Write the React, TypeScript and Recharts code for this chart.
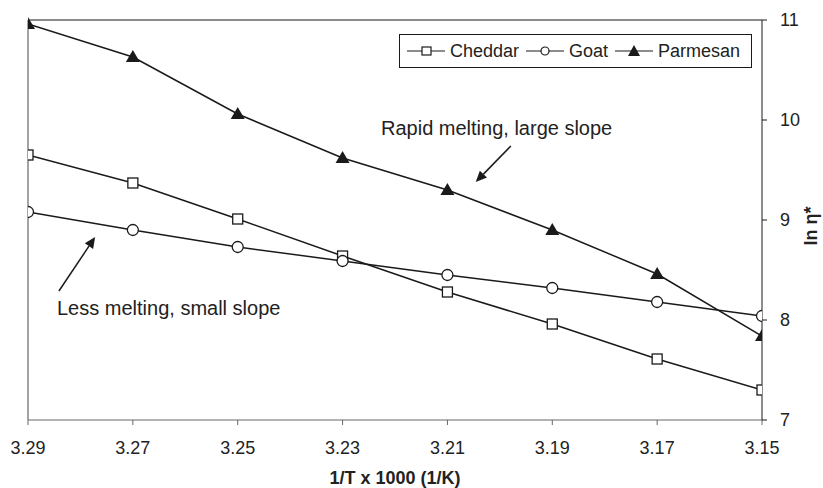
import {
  LineChart,
  Line,
  XAxis,
  YAxis,
  ReferenceLine,
} from "recharts";

const temps = [3.29, 3.27, 3.25, 3.23, 3.21, 3.19, 3.17, 3.15];
const cheddar = [9.65, 9.37, 9.01, 8.64, 8.28, 7.96, 7.61, 7.3];
const goat = [9.08, 8.9, 8.73, 8.59, 8.45, 8.32, 8.18, 8.04];
const parmesan = [10.96, 10.63, 10.06, 9.62, 9.3, 8.9, 8.46, 7.84];
const yTicks = [7, 8, 9, 10, 11];

// arrow annotations in data units: [fromX, fromY, toX, toY]
const rapidArrow = [3.1979, 9.74, 3.2046, 9.38];
const lessArrow = [3.2841, 8.29, 3.2772, 8.83];

const data = temps.map((t, i) => ({
  t,
  cheddar: cheddar[i],
  goat: goat[i],
  parmesan: parmesan[i],
}));

const INK = "#1a1a1a";
const TXT = "#222";
const FONT = "'Liberation Sans', Arial, sans-serif";

const SquareDot = (p: any) => (
  <rect x={p.cx - 5} y={p.cy - 5} width={10} height={10} fill="#fff" stroke={INK} strokeWidth={1.3} />
);
const CircleDot = (p: any) => (
  <circle cx={p.cx} cy={p.cy} r={5.5} fill="#fff" stroke={INK} strokeWidth={1.3} />
);
const TriDot = (p: any) => (
  <polygon points={`${p.cx},${p.cy - 7} ${p.cx - 7},${p.cy + 5} ${p.cx + 7},${p.cy + 5}`} fill={INK} />
);

const YTick = (p: any) => (
  <text x={p.x + 11} y={p.y} dy={6} textAnchor="start" fontSize={18} fill={TXT} fontFamily={FONT}>
    {p.payload.value}
  </text>
);

const Arrow = (p: any) => {
  const { x1, y1, x2, y2 } = p;
  const a = Math.atan2(y2 - y1, x2 - x1);
  const len = 11;
  const w = 5;
  const bx = x2 - len * Math.cos(a);
  const by = y2 - len * Math.sin(a);
  const px = -Math.sin(a) * w;
  const py = Math.cos(a) * w;
  return (
    <g>
      <line x1={x1} y1={y1} x2={bx} y2={by} stroke={INK} strokeWidth={1.5} />
      <polygon points={`${x2},${y2} ${bx + px},${by + py} ${bx - px},${by - py}`} fill={INK} />
    </g>
  );
};

const LegendItem = ({ label, marker, first }: { label: string; marker: "sq" | "ci" | "tr"; first?: boolean }) => (
  <span style={{ display: "inline-flex", alignItems: "center", marginLeft: first ? 0 : 7 }}>
    <svg width={38} height={14}>
      <line x1={0} y1={7} x2={38} y2={7} stroke={INK} strokeWidth={1.2} />
      {marker === "sq" && <rect x={15} y={3} width={9} height={8} fill="#fff" stroke={INK} strokeWidth={1.2} />}
      {marker === "ci" && <circle cx={19} cy={7} r={4} fill="#fff" stroke={INK} strokeWidth={1.2} />}
      {marker === "tr" && <polygon points="19,1 13,12 25,12" fill={INK} />}
    </svg>
    <span style={{ marginLeft: 5 }}>{label}</span>
  </span>
);

export default function App() {
  return (
    <div style={{ position: "absolute", left: 0, top: 0, width: 823, height: 488, background: "#fff", fontFamily: FONT }}>
      <LineChart width={823} height={488} data={data} margin={{ top: 20, right: 21, bottom: 38, left: 28 }}>
        <XAxis
          dataKey="t"
          type="number"
          domain={[3.15, 3.29]}
          reversed
          ticks={temps}
          tickFormatter={(v: number) => v.toFixed(2)}
          allowDataOverflow
          stroke="#666"
          tickSize={5}
          tickMargin={16}
          tick={{ fontSize: 18, fill: TXT, fontFamily: FONT }}
          height={30}
        />
        <YAxis
          orientation="right"
          type="number"
          domain={[7, 11]}
          ticks={yTicks}
          stroke={INK}
          tickSize={5}
          width={40}
          tick={<YTick />}
        />
        <ReferenceLine y={11} stroke={INK} strokeWidth={1.2} />
        <ReferenceLine x={3.29} stroke="#666" strokeWidth={1.2} />
        <ReferenceLine
          segment={[{ x: rapidArrow[0], y: rapidArrow[1] }, { x: rapidArrow[2], y: rapidArrow[3] }]}
          shape={Arrow}
        />
        <ReferenceLine
          segment={[{ x: lessArrow[0], y: lessArrow[1] }, { x: lessArrow[2], y: lessArrow[3] }]}
          shape={Arrow}
        />
        <Line dataKey="cheddar" stroke={INK} strokeWidth={1.5} dot={<SquareDot />} isAnimationActive={false} />
        <Line dataKey="goat" stroke={INK} strokeWidth={1.5} dot={<CircleDot />} isAnimationActive={false} />
        <Line dataKey="parmesan" stroke={INK} strokeWidth={1.5} dot={<TriDot />} isAnimationActive={false} />
      </LineChart>
      <div
        style={{
          position: "absolute",
          left: 399,
          top: 34,
          width: 353,
          height: 34,
          border: `1px solid ${INK}`,
          display: "flex",
          alignItems: "center",
          paddingLeft: 7,
          fontSize: 18,
          color: TXT,
          boxSizing: "border-box",
          whiteSpace: "nowrap",
        }}
      >
        <LegendItem label="Cheddar" marker="sq" first />
        <LegendItem label="Goat" marker="ci" />
        <LegendItem label="Parmesan" marker="tr" />
      </div>
      <div style={{ position: "absolute", left: 381, top: 117, fontSize: 20, color: TXT, whiteSpace: "nowrap" }}>
        Rapid melting, large slope
      </div>
      <div style={{ position: "absolute", left: 57, top: 297, fontSize: 20, color: TXT, whiteSpace: "nowrap" }}>
        Less melting, small slope
      </div>
      <div
        style={{
          position: "absolute",
          left: 395,
          top: 468,
          transform: "translateX(-50%)",
          fontSize: 18,
          fontWeight: "bold",
          color: TXT,
          whiteSpace: "nowrap",
        }}
      >
        1/T x 1000 (1/K)
      </div>
      <div
        style={{
          position: "absolute",
          left: 811,
          top: 226,
          transform: "translate(-50%, -50%) rotate(-90deg)",
          fontSize: 18,
          fontWeight: "bold",
          color: TXT,
          whiteSpace: "nowrap",
        }}
      >
        ln η*
      </div>
    </div>
  );
}
